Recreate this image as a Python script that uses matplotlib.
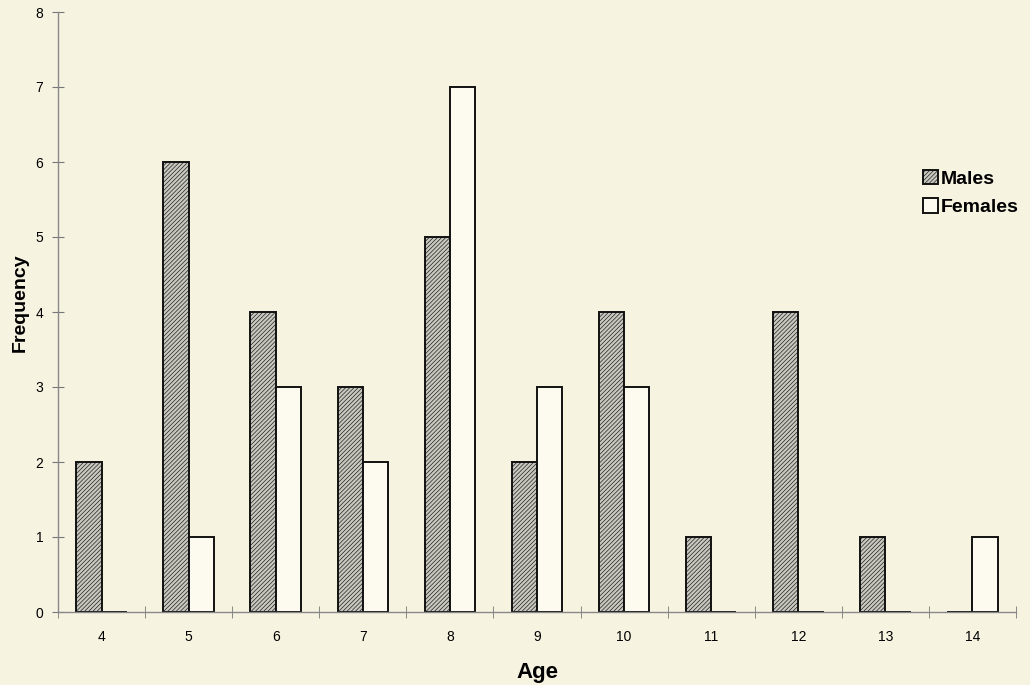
import matplotlib.pyplot as plt
import numpy as np

ages = ['4', '5', '6', '7', '8', '9', '10', '11', '12', '13', '14']
males = [2, 6, 4, 3, 5, 2, 4, 1, 4, 1, 0]
females = [0, 1, 3, 2, 7, 3, 3, 0, 0, 0, 1]

bg = '#f7f3e1'
plt.rcParams['font.family'] = ['Liberation Sans', 'DejaVu Sans']
plt.rcParams['hatch.linewidth'] = 0.45
plt.rcParams['hatch.color'] = '#8a8a84'

fig = plt.figure(figsize=(10.3, 6.85), dpi=100, facecolor=bg)
ax = fig.add_axes([58/1030, 73/685, 958/1030, 600/685], facecolor=bg)

x = np.arange(len(ages))
w = 0.29
ax.bar(x - w/2, males, w, color='#c8c8c0', edgecolor='#111111', linewidth=1.4,
       hatch='////////', label='Males')
ax.bar(x + w/2, females, w, color='#fdfbf0', edgecolor='#111111', linewidth=1.4,
       label='Females')

ax.set_xlim(-0.5, len(ages) - 0.5)
ax.set_ylim(0, 8)
ax.set_yticks(range(0, 9))
ax.set_xticks(x)
ax.set_xticklabels(ages)
ax.set_xticks(np.arange(-0.5, len(ages)), minor=True)
ax.tick_params(axis='x', which='major', length=0, pad=13, labelsize=10)
ax.tick_params(axis='x', which='minor', direction='inout', length=9, color='#777777')
ax.tick_params(axis='y', direction='inout', length=9, color='#777777', pad=6, labelsize=10)

for s in ['top', 'right']:
    ax.spines[s].set_visible(False)
for s in ['left', 'bottom']:
    ax.spines[s].set_color('#888888')
    ax.spines[s].set_linewidth(1.0)

ax.set_xlabel('Age', fontsize=16, fontweight='bold', labelpad=13)
ax.set_ylabel('Frequency', fontsize=14, fontweight='bold')
ax.yaxis.set_label_coords(-0.031, 0.515)

ax.legend(loc='upper left', bbox_to_anchor=(0.895, 0.75), frameon=False,
          prop={'weight': 'bold', 'size': 14}, handlelength=0.75, handleheight=0.75,
          handletextpad=0.15, labelspacing=0.55, borderaxespad=0)

fig.savefig('out.png', dpi=100, facecolor=bg)
